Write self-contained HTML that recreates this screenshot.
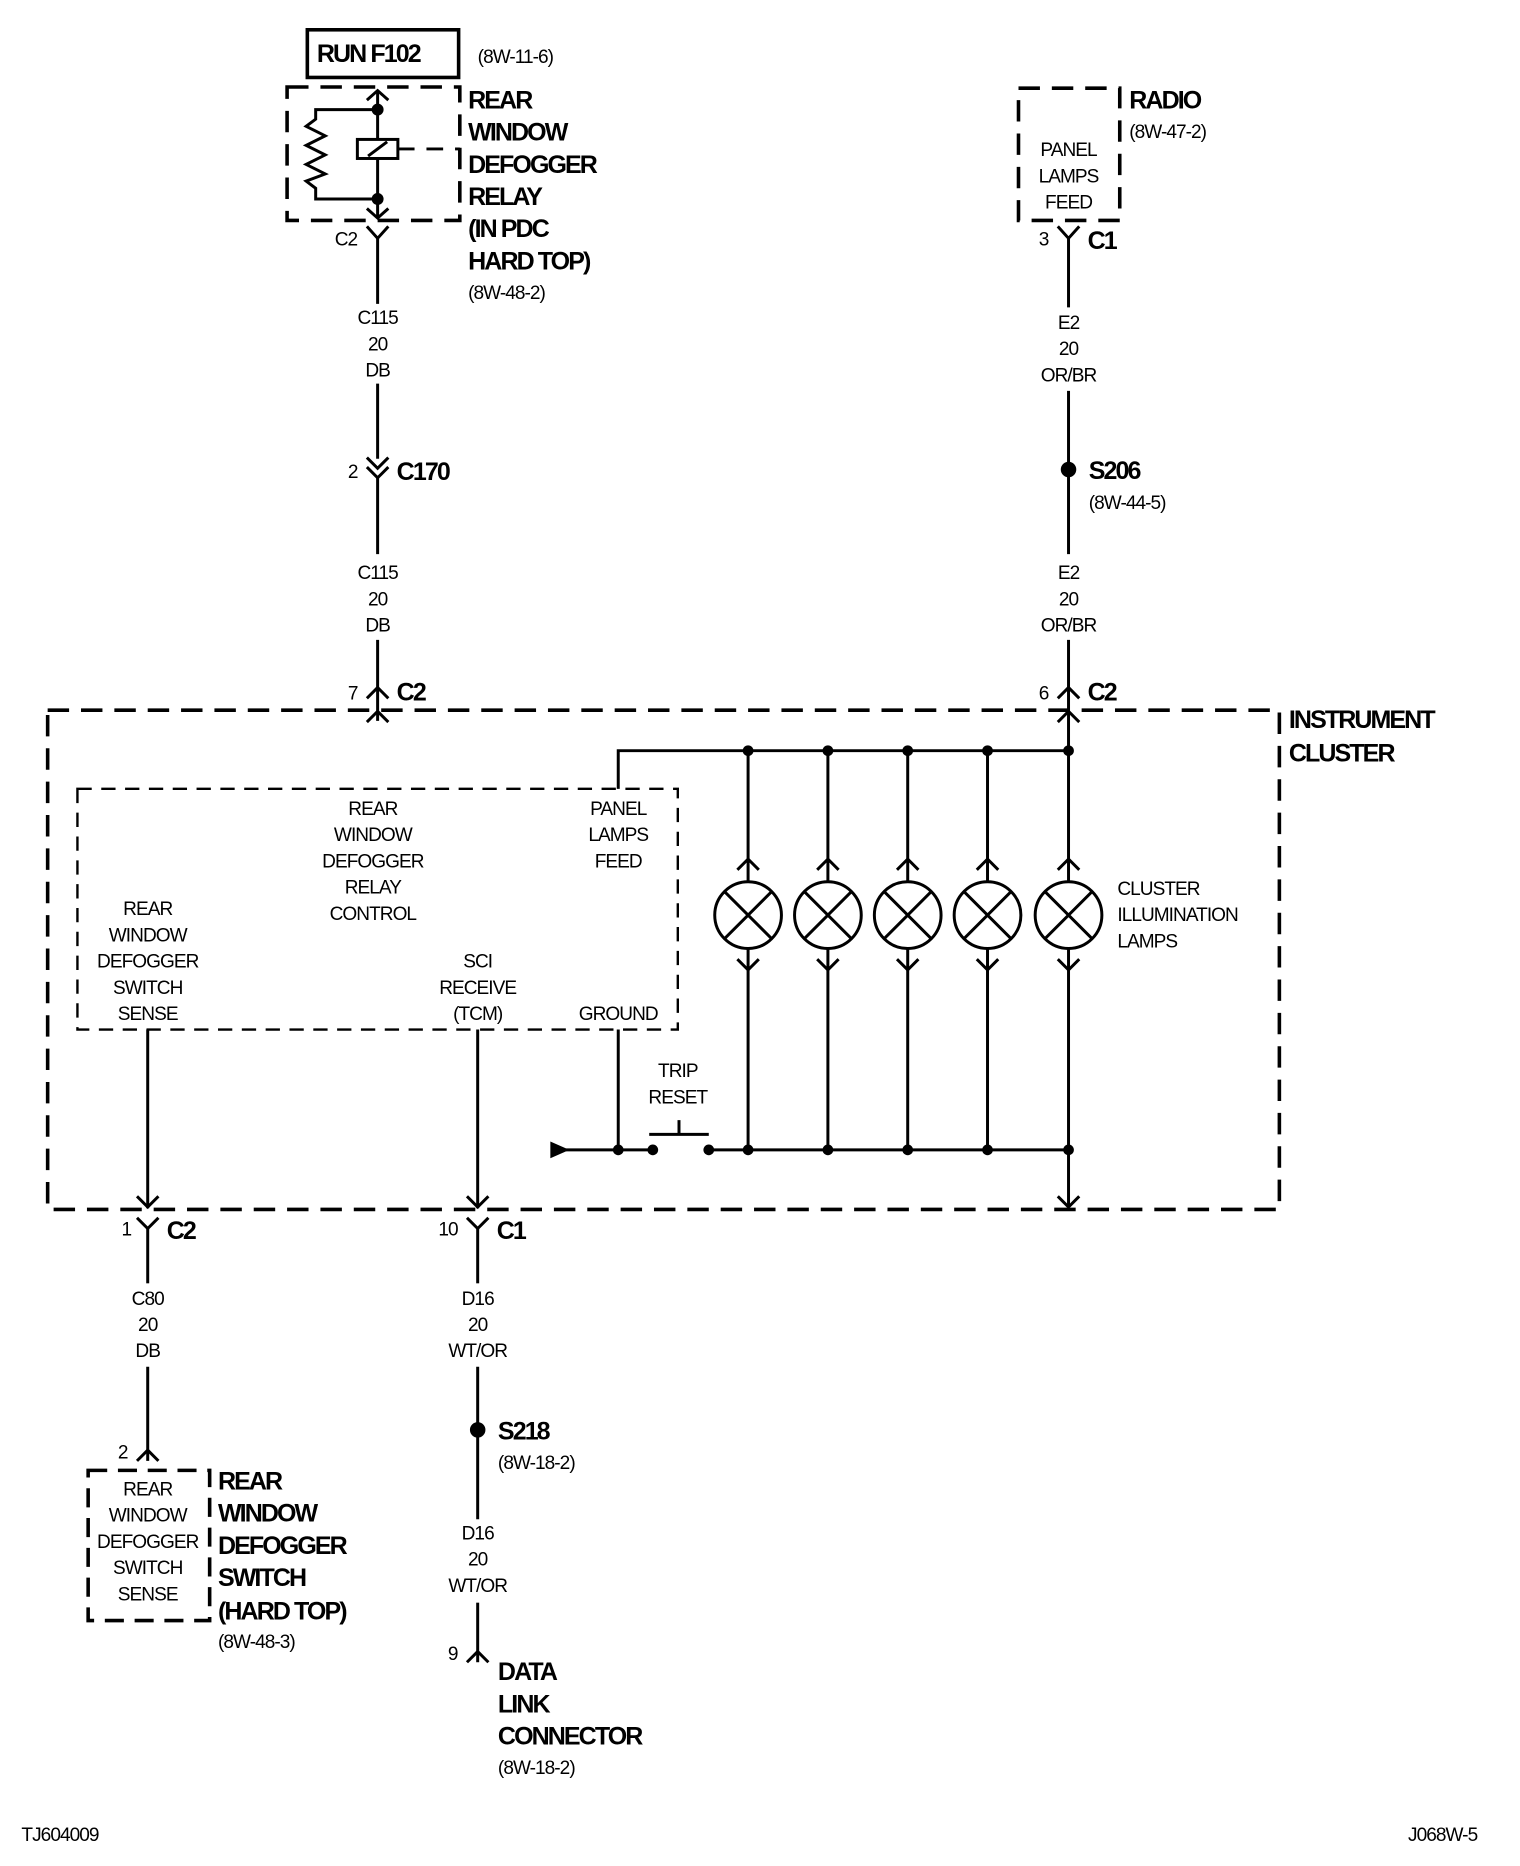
<!DOCTYPE html>
<html><head><meta charset="utf-8"><style>
html,body{margin:0;padding:0;background:#fff}
svg{display:block}
text{font-family:"Liberation Sans",Arial,sans-serif;fill:#000}
.s{font-size:16px;letter-spacing:-0.8px}
.b{font-size:21px;font-weight:bold;letter-spacing:-1.6px}
.c{text-anchor:middle}
</style></head><body>
<svg width="1520" height="1866" viewBox="0 0 1276 1566" preserveAspectRatio="none" xmlns="http://www.w3.org/2000/svg">
<g stroke="#000" stroke-width="2.5" fill="none">
<rect x="258" y="25" width="127" height="40" stroke-width="3"/>
<rect x="241" y="73" width="145" height="112" stroke-width="3" stroke-dasharray="18,10"/>
<line x1="317" y1="76" x2="317" y2="183"/>
<path d="M308,84 L317,76 L326,84"/>
<path d="M308,175 L317,183 L326,175"/>
<path d="M317,92 H265 V100 L257,106 L273,114 L257,122 L273,130 L257,138 L273,146 L257,152 L265,158 V167 H317"/>
<rect x="300" y="117" width="34" height="16" fill="#fff"/>
<line x1="309" y1="131" x2="325" y2="119"/>
<path d="M334,125 H386" stroke-dasharray="14,10"/>
<path d="M308,190 L317,200 L326,190"/>
<line x1="317" y1="200" x2="317" y2="255"/>
<line x1="317" y1="322" x2="317" y2="385"/>
<path d="M308,384 L317,393 L326,384 M308,392 L317,401 L326,392"/>
<line x1="317" y1="401" x2="317" y2="465"/>
<line x1="317" y1="537" x2="317" y2="605"/>
<path d="M308,586 L317,577 L326,586"/>
<path d="M308,606 L317,597 L326,606"/>
<rect x="855" y="74" width="85" height="111" stroke-width="3" stroke-dasharray="18,10"/>
<path d="M888,190 L897,200 L906,190"/>
<line x1="897" y1="200" x2="897" y2="258"/>
<line x1="897" y1="328" x2="897" y2="465"/>
<line x1="897" y1="537" x2="897" y2="1013"/>
<path d="M888,586 L897,577 L906,586"/>
<path d="M888,606 L897,597 L906,606"/>
<rect x="40" y="596" width="1034" height="419" stroke-width="3" stroke-dasharray="18,10"/>
<rect x="65" y="662" width="504" height="202" stroke-width="2" stroke-dasharray="12,8"/>
<path d="M519,662 V630 H897"/>
<line x1="519" y1="864" x2="519" y2="965"/>
<line x1="124" y1="864" x2="124" y2="1014"/>
<line x1="401" y1="864" x2="401" y2="1014"/>
<path d="M115,1004 L124,1013 L133,1004 M392,1004 L401,1013 L410,1004 M888,1004 L897,1013 L906,1004"/>
<line x1="628" y1="630" x2="628" y2="740"/><line x1="628" y1="796" x2="628" y2="965"/>
<line x1="695" y1="630" x2="695" y2="740"/><line x1="695" y1="796" x2="695" y2="965"/>
<line x1="762" y1="630" x2="762" y2="740"/><line x1="762" y1="796" x2="762" y2="965"/>
<line x1="829" y1="630" x2="829" y2="740"/><line x1="829" y1="796" x2="829" y2="965"/>
<circle cx="628" cy="768" r="28"/><circle cx="695" cy="768" r="28"/><circle cx="762" cy="768" r="28"/><circle cx="829" cy="768" r="28"/><circle cx="897" cy="768" r="28" fill="#fff"/>
<path d="M608,748 L648,788 M648,748 L608,788 M675,748 L715,788 M715,748 L675,788 M742,748 L782,788 M782,748 L742,788 M809,748 L849,788 M849,748 L809,788 M877,748 L917,788 M917,748 L877,788"/>
<path d="M619,730 L628,721 L637,730 M686,730 L695,721 L704,730 M753,730 L762,721 L771,730 M820,730 L829,721 L838,730 M888,730 L897,721 L906,730"/>
<path d="M619,805 L628,814 L637,805 M686,805 L695,814 L704,805 M753,805 L762,814 L771,805 M820,805 L829,814 L838,805 M888,805 L897,814 L906,805"/>
<line x1="475" y1="965" x2="548" y2="965"/>
<line x1="595" y1="965" x2="897" y2="965"/>
<path d="M545,952 H595 M570,952 V940"/>
<path d="M115,1022 L124,1031 L133,1022"/>
<line x1="124" y1="1031" x2="124" y2="1077"/>
<line x1="124" y1="1147" x2="124" y2="1226"/>
<path d="M115,1226 L124,1217 L133,1226"/>
<rect x="74" y="1234" width="102" height="126" stroke-width="3" stroke-dasharray="16,9"/>
<path d="M392,1022 L401,1031 L410,1022"/>
<line x1="401" y1="1031" x2="401" y2="1077"/>
<line x1="401" y1="1147" x2="401" y2="1275"/>
<line x1="401" y1="1345" x2="401" y2="1395"/>
<path d="M392,1395 L401,1386 L410,1395"/>
</g>
<polygon points="462,958 478,965 462,972" fill="#000"/>
<g fill="#000">
<circle cx="317" cy="92" r="5"/><circle cx="317" cy="167" r="5"/>
<circle cx="897" cy="394" r="6.5"/><circle cx="401" cy="1200" r="6.5"/>
<circle cx="628" cy="630" r="4.5"/><circle cx="695" cy="630" r="4.5"/><circle cx="762" cy="630" r="4.5"/><circle cx="829" cy="630" r="4.5"/><circle cx="897" cy="630" r="4.5"/>
<circle cx="519" cy="965" r="4.5"/><circle cx="548" cy="965" r="4.5"/><circle cx="595" cy="965" r="4.5"/><circle cx="628" cy="965" r="4.5"/><circle cx="695" cy="965" r="4.5"/><circle cx="762" cy="965" r="4.5"/><circle cx="829" cy="965" r="4.5"/><circle cx="897" cy="965" r="4.5"/>
</g>
<text class="b" x="266" y="52">RUN F102</text>
<text class="s" x="401" y="53">(8W-11-6)</text>
<text class="b" x="393" y="91">REAR</text>
<text class="b" x="393" y="118">WINDOW</text>
<text class="b" x="393" y="145">DEFOGGER</text>
<text class="b" x="393" y="172">RELAY</text>
<text class="b" x="393" y="199">(IN PDC</text>
<text class="b" x="393" y="226">HARD TOP)</text>
<text class="s" x="393" y="251">(8W-48-2)</text>
<text class="s" x="281" y="206">C2</text>
<text class="s c" x="317" y="272">C115</text><text class="s c" x="317" y="294">20</text><text class="s c" x="317" y="316">DB</text>
<text class="s" x="292" y="401">2</text><text class="b" x="333" y="403">C170</text>
<text class="s c" x="317" y="486">C115</text><text class="s c" x="317" y="508">20</text><text class="s c" x="317" y="530">DB</text>
<text class="s" x="292" y="587">7</text><text class="b" x="333" y="588">C2</text>
<text class="b" x="948" y="91">RADIO</text><text class="s" x="948" y="116">(8W-47-2)</text>
<text class="s c" x="897" y="131">PANEL</text><text class="s c" x="897" y="153">LAMPS</text><text class="s c" x="897" y="175">FEED</text>
<text class="s" x="872" y="206">3</text><text class="b" x="913" y="209">C1</text>
<text class="s c" x="897" y="276">E2</text><text class="s c" x="897" y="298">20</text><text class="s c" x="897" y="320">OR/BR</text>
<text class="b" x="914" y="402">S206</text><text class="s" x="914" y="427">(8W-44-5)</text>
<text class="s c" x="897" y="486">E2</text><text class="s c" x="897" y="508">20</text><text class="s c" x="897" y="530">OR/BR</text>
<text class="s" x="872" y="587">6</text><text class="b" x="913" y="588">C2</text>
<text class="b" x="1082" y="611">INSTRUMENT</text><text class="b" x="1082" y="639">CLUSTER</text>
<text class="s c" x="313" y="684">REAR</text><text class="s c" x="313" y="706">WINDOW</text><text class="s c" x="313" y="728">DEFOGGER</text><text class="s c" x="313" y="750">RELAY</text><text class="s c" x="313" y="772">CONTROL</text>
<text class="s c" x="519" y="684">PANEL</text><text class="s c" x="519" y="706">LAMPS</text><text class="s c" x="519" y="728">FEED</text>
<text class="s c" x="124" y="768">REAR</text><text class="s c" x="124" y="790">WINDOW</text><text class="s c" x="124" y="812">DEFOGGER</text><text class="s c" x="124" y="834">SWITCH</text><text class="s c" x="124" y="856">SENSE</text>
<text class="s c" x="401" y="812">SCI</text><text class="s c" x="401" y="834">RECEIVE</text><text class="s c" x="401" y="856">(TCM)</text>
<text class="s c" x="519" y="856">GROUND</text>
<text class="s c" x="569" y="904">TRIP</text><text class="s c" x="569" y="926">RESET</text>
<text class="s" x="938" y="751">CLUSTER</text><text class="s" x="938" y="773">ILLUMINATION</text><text class="s" x="938" y="795">LAMPS</text>
<text class="s" x="102" y="1037">1</text><text class="b" x="140" y="1040">C2</text>
<text class="s" x="368" y="1037">10</text><text class="b" x="417" y="1040">C1</text>
<text class="s c" x="124" y="1095">C80</text><text class="s c" x="124" y="1117">20</text><text class="s c" x="124" y="1139">DB</text>
<text class="s c" x="401" y="1095">D16</text><text class="s c" x="401" y="1117">20</text><text class="s c" x="401" y="1139">WT/OR</text>
<text class="b" x="418" y="1208">S218</text><text class="s" x="418" y="1233">(8W-18-2)</text>
<text class="s c" x="401" y="1292">D16</text><text class="s c" x="401" y="1314">20</text><text class="s c" x="401" y="1336">WT/OR</text>
<text class="s" x="99" y="1224">2</text>
<text class="s c" x="124" y="1255">REAR</text><text class="s c" x="124" y="1277">WINDOW</text><text class="s c" x="124" y="1299">DEFOGGER</text><text class="s c" x="124" y="1321">SWITCH</text><text class="s c" x="124" y="1343">SENSE</text>
<text class="b" x="183" y="1250">REAR</text><text class="b" x="183" y="1277">WINDOW</text><text class="b" x="183" y="1304">DEFOGGER</text><text class="b" x="183" y="1331">SWITCH</text><text class="b" x="183" y="1359">(HARD TOP)</text>
<text class="s" x="183" y="1383">(8W-48-3)</text>
<text class="s" x="376" y="1393">9</text>
<text class="b" x="418" y="1410">DATA</text><text class="b" x="418" y="1437">LINK</text><text class="b" x="418" y="1464">CONNECTOR</text>
<text class="s" x="418" y="1489">(8W-18-2)</text>
<text class="s" x="18" y="1545">TJ604009</text>
<text class="s" x="1182" y="1545">J068W-5</text>
</svg>
</body></html>
